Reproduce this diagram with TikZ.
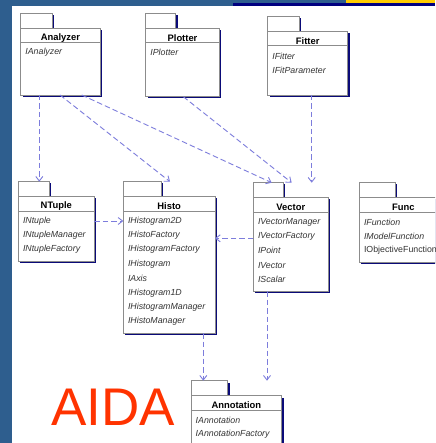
\documentclass[tikz,border=0pt]{standalone}
\usepackage{fontspec}
\setmainfont{Liberation Sans}
\usetikzlibrary{arrows.meta,shadows}
\definecolor{slideblue}{RGB}{46,94,142}
\definecolor{slidenavy}{RGB}{0,0,128}
\definecolor{slideyellow}{RGB}{255,204,0}
\definecolor{pkgshadow}{RGB}{10,10,120}
\definecolor{pkgedge}{RGB}{140,140,140}
\definecolor{depcolor}{RGB}{125,125,220}
\definecolor{aidared}{RGB}{255,51,0}

\begin{document}
\begin{tikzpicture}[x=1pt, y=-1pt,
    pkgbox/.style={draw=pkgedge, line width=0.8pt, fill=white, inner sep=0pt, outer sep=0pt,
      drop shadow={shadow xshift=1.8pt, shadow yshift=-1.8pt, fill=pkgshadow, opacity=1}},
    pkg/.style={pkgbox, anchor=north west},
    pkgtab/.style={pkgbox, anchor=south west, minimum height=15pt},
    pkgsep/.style={draw=pkgedge, line width=0.8pt},
    pkgtitle/.style={font=\fontsize{9.4}{10}\selectfont\bfseries, inner sep=0pt},
    pkgitem/.style={font=\fontsize{8.8}{10}\selectfont\itshape, anchor=west, inner sep=0pt, text=black!80},
    dep/.style={draw=depcolor, line width=0.9pt, dash pattern=on 5.5pt off 3pt,
      -{Straight Barb[length=4.5pt, width=7pt]}},
    aida/.style={font=\fontsize{53}{53}\selectfont, text=aidared, anchor=base west, inner sep=0pt}
  ]
  \useasboundingbox (0,0) rectangle (435,443);
  \clip (0,0) rectangle (435,443);
  % slide background
  \fill[slideblue] (0,0) rectangle (435,443);
  \fill[white] (12,5.7) rectangle (435,443);
  \fill[slidenavy] (233,3.3) rectangle (435,6);
  \fill[slideyellow] (346,0) rectangle (435,3);

  % packages: name/x/y/width/height/tab width/title
  \foreach \n/\x/\y/\w/\h/\tw/\title in {
      analyzer/20.7/28.3/79.3/66.7/31.6/Analyzer,
      plotter/145.7/28.3/73.6/68.4/30/Plotter,
      fitter/267.7/31.7/80/63.3/31.3/Fitter,
      ntuple/18.3/196.7/76/64.3/31/NTuple,
      histo/123.3/196.7/91.7/136.3/37.7/Histo,
      vector/253.3/197.7/75/93.3/30/Vector,
      func/359.3/197.7/88/64.8/35.7/Func,
      annotation/191/395.7/90.7/75/36.7/Annotation} {
    \node[pkgtab, minimum width=\tw*1pt] (\n-tab) at (\x,\y) {};
    \node[pkg, minimum width=\w*1pt, minimum height=\h*1pt] (\n) at (\x,\y) {};
    \node[pkgtitle] (\n-title) at ([yshift=-9.5pt]\n.north) {\title};
    \draw[pkgsep] ([yshift=-14.2pt]\n.north west) -- ([yshift=-14.2pt]\n.north east);
  }

  % interfaces
  \foreach \n/\items in {
      analyzer/{IAnalyzer},
      plotter/{IPlotter},
      fitter/{IFitter,IFitParameter},
      ntuple/{INtuple,INtupleManager,INtupleFactory},
      histo/{IHistogram2D,IHistoFactory,IHistogramFactory,IHistogram,IAxis,IHistogram1D,IHistogramManager,IHistoManager},
      vector/{IVectorManager,IVectorFactory,IPoint,IVector,IScalar},
      func/{IFunction,IModelFunction,{\upshape IObjectiveFunction}},
      annotation/{IAnnotation,IAnnotationFactory}} {
    \foreach \t [count=\k] in \items
      \node[pkgitem] (\n-\k) at ([xshift=4.5pt, yshift={-24.2pt-(\k-1)*14.4pt}]\n.north west) {\t};
  }

  % dependencies
  \draw[dep] ([xshift=18.6pt]analyzer.south west) -- ([xshift=21pt]ntuple-tab.north west);
  \draw[dep] ([xshift=39.3pt]analyzer.south west) -- ([xshift=46.7pt]histo-tab.north west);
  \draw[dep] ([xshift=61pt]analyzer.south west) -- ([xshift=18.4pt]vector-tab.north west);
  \draw[dep] ([xshift=37.6pt]plotter.south west) -- ([xshift=38.4pt]vector-tab.north west);
  \draw[dep] ([xshift=44pt]fitter.south west) -- ([xshift=58.4pt]vector-tab.north west);
  \draw[dep] ([yshift=-24.3pt]ntuple.north east) -- ([yshift=-24.3pt]histo.north west);
  \draw[dep] ([yshift=-40.6pt]vector.north west) -- ([yshift=-41.6pt]histo.north east);
  \draw[dep] ([xshift=80pt]histo.south west) -- ([xshift=12.3pt]annotation-tab.north west);
  \draw[dep] ([xshift=13.7pt]vector.south west) -- ([xshift=76pt]annotation-tab.north west);

  \node[aida] (aida) at (51,425) {AIDA};
\end{tikzpicture}
\end{document}
